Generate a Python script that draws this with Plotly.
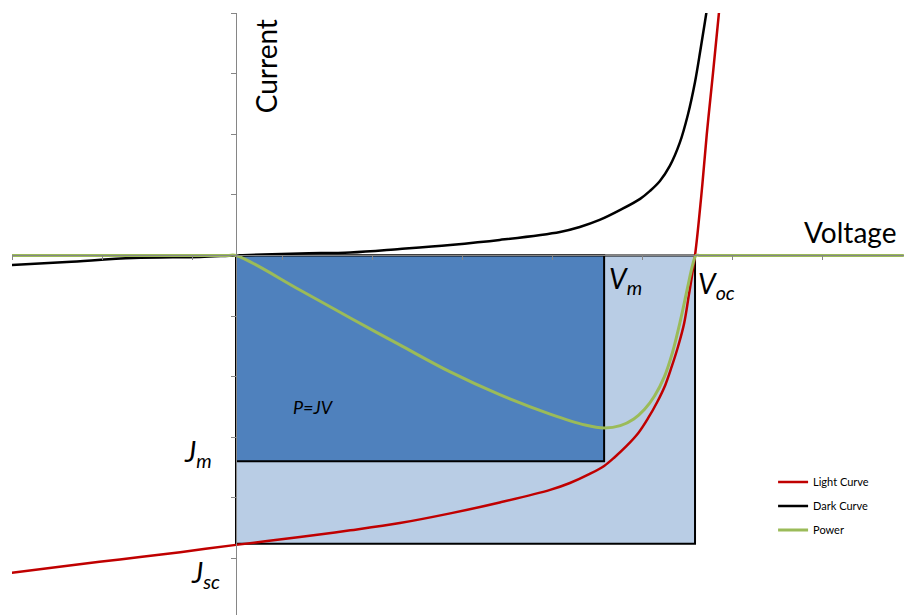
import plotly.graph_objects as go

# Voltage (V) and current density (mA/cm^2) samples
light_v = [-0.249, -0.196, -0.129, -0.062, 0.0, 0.071, 0.127, 0.182, 0.238, 0.293,
           0.349, 0.371, 0.393, 0.409, 0.421, 0.434, 0.447, 0.458, 0.468, 0.477,
           0.484, 0.491, 0.498, 0.503, 0.510, 0.517, 0.523, 0.530, 0.538]
light_j = [-26.2, -25.7, -25.1, -24.5, -23.9, -23.25, -22.7, -22.1, -21.3, -20.4,
           -19.36, -18.79, -18.04, -17.38, -16.64, -15.73, -14.66, -13.42, -12.10, -10.69,
           -9.21, -7.56, -5.57, -3.34, 0.0, 4.95, 9.95, 15.07, 21.1]

dark_v = [-0.249, -0.188, -0.114, -0.040, 0.0, 0.071, 0.127, 0.182, 0.238, 0.293,
          0.360, 0.382, 0.404, 0.427, 0.449, 0.460, 0.471, 0.482, 0.493, 0.502,
          0.510, 0.516, 0.521, 0.524]
dark_j = [-0.78, -0.54, -0.21, -0.12, 0.0, 0.17, 0.25, 0.54, 0.87, 1.28,
          1.94, 2.35, 2.93, 3.76, 4.67, 5.33, 6.15, 7.39, 9.29, 11.6,
          14.33, 16.97, 19.28, 20.69]

power_v = [-0.249, -0.010, 0.0, 0.071, 0.127, 0.182, 0.238, 0.293, 0.349, 0.388,
           0.409, 0.427, 0.442, 0.454, 0.465, 0.476, 0.485, 0.494, 0.501, 0.508,
           0.511, 0.516, 0.742]
power_p = [0.0, 0.0, 0.0, -2.85, -5.16, -7.39, -9.62, -11.5, -13.1, -14.0,
           -14.24, -14.05, -13.5, -12.7, -11.6, -10.0, -8.0, -5.3, -2.9, -0.6,
           0.0, 0.0, 0.0]

# Operating points
V_OC = 0.510
V_M = 0.409
J_SC = -23.8
J_M = -17.0

# Axis extents
X_MIN, X_MAX = -0.2489, 0.7422
Y_MIN, Y_MAX = -29.69, 20.02

RED = "#C00000"
BLACK = "#000000"
GREEN = "#9BBB59"
AXIS_GREY = "#868686"
FONT = "Lato"

fig = go.Figure()

fig.add_trace(go.Scatter(x=light_v, y=light_j, mode="lines", name="Light Curve",
                         line=dict(color=RED, width=2.5, shape="spline", smoothing=1),
                         legendgroup="a"))
fig.add_trace(go.Scatter(x=dark_v, y=dark_j, mode="lines", name="Dark Curve",
                         line=dict(color=BLACK, width=2.5, shape="spline", smoothing=1),
                         legendgroup="b"))
fig.add_trace(go.Scatter(x=power_v, y=power_p, mode="lines", name="Power",
                         line=dict(color=GREEN, width=3, shape="spline", smoothing=1),
                         legendgroup="c"))

# Ideal-limit rectangle (Voc x Jsc) and max-power rectangle (Vm x Jm)
fig.add_shape(type="rect", xref="x", yref="y", x0=0, x1=V_OC, y0=J_SC, y1=0,
              fillcolor="#B9CDE5", line=dict(color=BLACK, width=2), layer="below")
fig.add_shape(type="rect", xref="x", yref="y", x0=0, x1=V_M, y0=J_M, y1=0,
              fillcolor="#4F81BD", line=dict(color=BLACK, width=2), layer="below")

big = dict(family=FONT, size=28, color="black")
labels = [
    dict(text="Current", x=0.033, y=15.6, textangle=-90, font=big),
    dict(text="Voltage", x=0.682, y=1.9, font=big),
    dict(text="<i>V<sub>m</sub></i>", x=0.433, y=-2.0, font=big),
    dict(text="<i>V<sub>oc</sub></i>", x=0.534, y=-2.4, font=big),
    dict(text="<i>J<sub>m</sub></i>", x=-0.042, y=-16.3, font=big),
    dict(text="<i>J<sub>sc</sub></i>", x=-0.034, y=-26.3, font=big),
    dict(text="<i>P=JV</i>", x=0.0856, y=-12.5,
         font=dict(family=FONT, size=18, color="black")),
]
for a in labels:
    fig.add_annotation(xref="x", yref="y", showarrow=False, **a)

fig.update_layout(
    width=904, height=615,
    margin=dict(l=12, r=0, t=13, b=0),
    paper_bgcolor="white", plot_bgcolor="white",
    font=dict(family=FONT, color="black"),
    showlegend=True,
    legend=dict(x=(782 - 12) / 892 - 0.01, y=0.245, xanchor="left", yanchor="top",
                bgcolor="rgba(0,0,0,0)", font=dict(family=FONT, size=11, color="black"),
                tracegroupgap=5, itemwidth=30),
    xaxis=dict(range=[X_MIN, X_MAX], anchor="free",
               position=(0 - Y_MIN) / (Y_MAX - Y_MIN),
               showline=True, linecolor=AXIS_GREY, linewidth=1,
               ticks="outside", ticklen=4, tickcolor=AXIS_GREY,
               tick0=X_MIN, dtick=0.1, showticklabels=False,
               showgrid=False, zeroline=False),
    yaxis=dict(range=[Y_MIN, Y_MAX], anchor="free",
               position=(0 - X_MIN) / (X_MAX - X_MIN),
               showline=True, linecolor=AXIS_GREY, linewidth=1,
               ticks="outside", ticklen=5, tickcolor=AXIS_GREY,
               tick0=0, dtick=5, showticklabels=False,
               showgrid=False, zeroline=False),
)

fig.write_html("out.html")
